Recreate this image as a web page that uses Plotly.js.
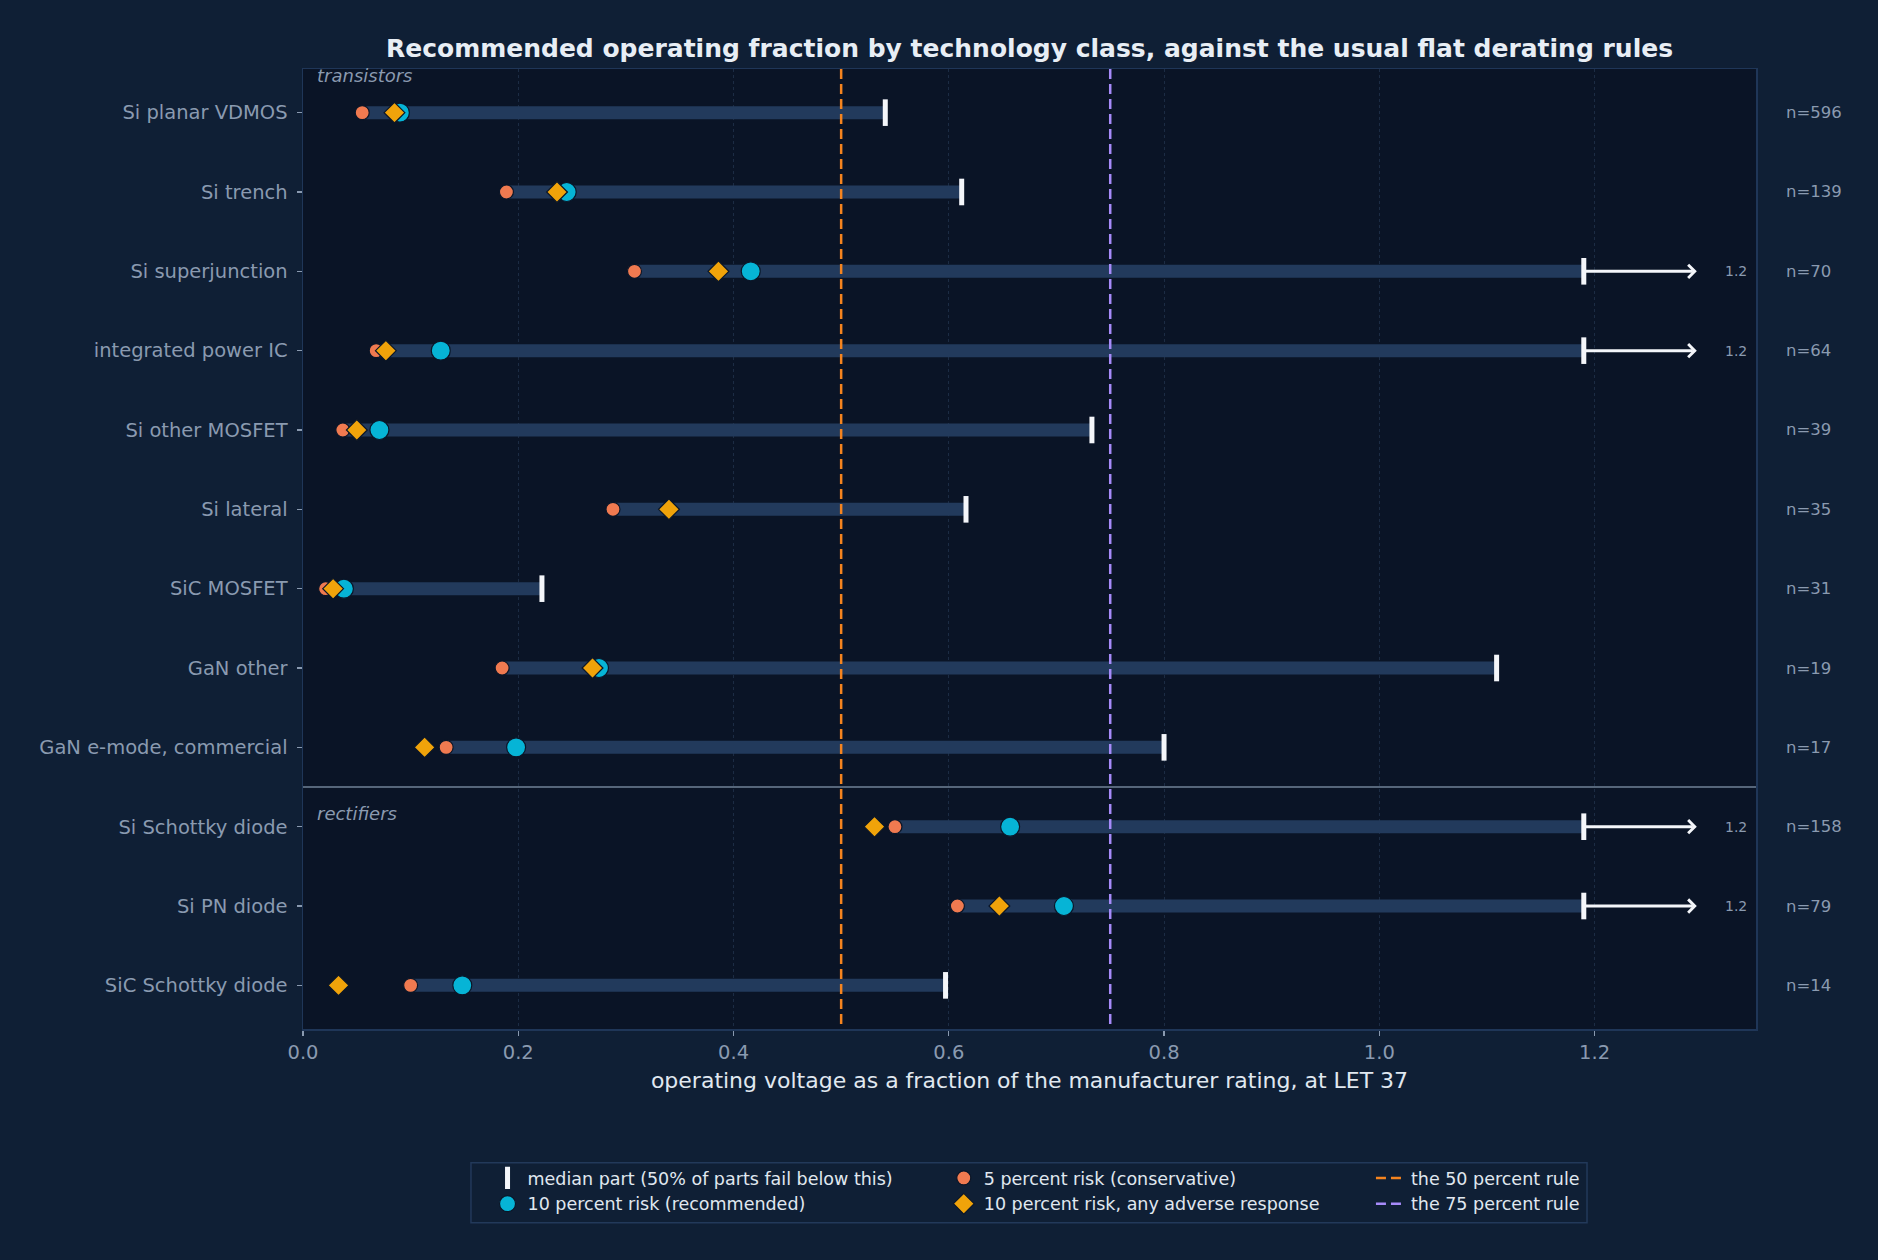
<!DOCTYPE html>
<html>
<head>
<meta charset="utf-8">
<script src="https://cdn.plot.ly/plotly-3.0.1.min.js"></script>
<style>
  html, body { margin: 0; padding: 0; background: #0f1f35; }
  #chart { width: 1878px; height: 1260px; }
</style>
</head>
<body>
<div id="chart"></div>
<script>
// ---------------- data ----------------
const categories = [
  "Si planar VDMOS", "Si trench", "Si superjunction", "integrated power IC",
  "Si other MOSFET", "Si lateral", "SiC MOSFET", "GaN other",
  "GaN e-mode, commercial", "Si Schottky diode", "Si PN diode", "SiC Schottky diode"
];
const groupNames = ["transistors", "rectifiers"];
const sampleCounts = [596, 139, 70, 64, 39, 35, 31, 19, 17, 158, 79, 14];
// 5 percent risk (conservative)
const risk5 = [0.055, 0.189, 0.308, 0.068, 0.037, 0.288, 0.021, 0.185, 0.133, 0.550, 0.608, 0.100];
// 10 percent risk (recommended)
const risk10 = [0.090, 0.245, 0.416, 0.128, 0.071, null, 0.038, 0.275, 0.198, 0.657, 0.707, 0.148];
// 10 percent risk, any adverse response
const risk10Any = [0.085, 0.236, 0.386, 0.077, 0.050, 0.340, 0.028, 0.269, 0.113, 0.531, 0.647, 0.033];
// median part; null where the median lies beyond the plotted range
const medianPart = [0.541, 0.612, null, null, 0.733, 0.616, 0.222, 1.109, 0.800, null, null, 0.597];
const medianCapValue = 1.19;     // where an off-range median is drawn
const medianArrowEnd = 1.295;    // arrow pointing beyond the cap
const capLabel = "1.2";
const ruleValues = [0.5, 0.75];
const ruleNames = ["the 50 percent rule", "the 75 percent rule"];
const xTicks = [0.0, 0.2, 0.4, 0.6, 0.8, 1.0, 1.2];

// ---------------- styling ----------------
const FONT = "DejaVu Sans";
const PAPER = "#0f1f35";
const PLOTBG = "#0a1426";
const FRAME = "#1f3658";
const TICKGRAY = "#8a9ab0";
const BAR = "#223a5c";
const C_ORANGE = "#f07a50";
const C_CYAN = "#06b4d6";
const C_DIAMOND = "#f0a30a";
const RULE_COLORS = ["#f5841f", "#a78bfa"];
const OUTLINE = "#0b1628";
const LEGEND_FONT = { family: FONT, size: 17.5, color: "#e0e8f0" };

const rows = categories.map((_, i) => i);
const yLo = -0.55, yHi = categories.length - 0.45;
const medianDrawn = medianPart.map(m => (m === null ? medianCapValue : m));

// bars: from the 5 percent risk point to the median
const barX = [], barY = [];
rows.forEach(i => { barX.push(risk5[i], medianDrawn[i], null); barY.push(i, i, null); });

const traces = [];
traces.push({
  type: "scatter", mode: "lines", x: barX, y: barY,
  line: { color: BAR, width: 13 }, hoverinfo: "skip", showlegend: false
});
// rule lines
ruleValues.forEach((r, k) => {
  traces.push({
    type: "scatter", mode: "lines", x: [r, r], y: [yLo, yHi],
    name: ruleNames[k], legend: "legend3", legendrank: k + 1,
    line: { color: RULE_COLORS[k], width: 2.5, dash: "10px,5px" }
  });
});
traces.push({
  type: "scatter", mode: "markers", x: medianDrawn, y: rows,
  name: "median part (50% of parts fail below this)", legend: "legend", legendrank: 1,
  marker: { symbol: "line-ns", size: 19, color: "#f4f6fa", line: { color: "#f4f6fa", width: 5 } }
});
traces.push({
  type: "scatter", mode: "markers", x: risk5, y: rows,
  name: "5 percent risk (conservative)", legend: "legend2", legendrank: 1,
  marker: { symbol: "circle", size: 14, color: C_ORANGE, line: { color: OUTLINE, width: 1.2 } }
});
traces.push({
  type: "scatter", mode: "markers", x: risk10, y: rows,
  name: "10 percent risk (recommended)", legend: "legend", legendrank: 2,
  marker: { symbol: "circle", size: 19, color: C_CYAN, line: { color: OUTLINE, width: 1.2 } }
});
traces.push({
  type: "scatter", mode: "markers", x: risk10Any, y: rows,
  name: "10 percent risk, any adverse response", legend: "legend2", legendrank: 2,
  marker: { symbol: "diamond", size: 16, color: C_DIAMOND, line: { color: OUTLINE, width: 1.2 } }
});

// annotations
const annotations = [];
rows.forEach(i => {
  annotations.push({
    xref: "paper", yref: "y", x: 1.0195, y: i, xanchor: "left", yanchor: "middle",
    text: "n=" + sampleCounts[i], showarrow: false,
    font: { family: FONT, size: 16.5, color: TICKGRAY }
  });
  if (medianPart[i] === null) {
    annotations.push({
      xref: "x", yref: "y", axref: "x", ayref: "y",
      x: medianArrowEnd, y: i, ax: medianCapValue, ay: i,
      showarrow: true, arrowhead: 4, arrowsize: 0.85, arrowwidth: 3,
      arrowcolor: "#f4f6fa", text: ""
    });
    annotations.push({
      xref: "x", yref: "y", x: 1.319, y: i, xanchor: "left", yanchor: "middle",
      text: capLabel, showarrow: false,
      font: { family: FONT, size: 14, color: TICKGRAY }
    });
  }
});
annotations.push({
  xref: "paper", yref: "y", x: 0.008, y: -0.47, xanchor: "left", yanchor: "middle",
  text: "<i>" + groupNames[0] + "</i>", showarrow: false,
  font: { family: FONT, size: 18, color: TICKGRAY }
});
annotations.push({
  xref: "paper", yref: "y", x: 0.008, y: 8.83, xanchor: "left", yanchor: "middle",
  text: "<i>" + groupNames[1] + "</i>", showarrow: false,
  font: { family: FONT, size: 18, color: TICKGRAY }
});

function legendCol(x) {
  return {
    orientation: "v", x: x, xanchor: "left", y: -0.1365, yanchor: "top",
    bgcolor: "rgba(0,0,0,0)", borderwidth: 0, font: LEGEND_FONT,
    traceorder: "normal", tracegroupgap: 0
  };
}

const layout = {
  width: 1878, height: 1260,
  paper_bgcolor: PAPER, plot_bgcolor: PLOTBG,
  margin: { l: 303, r: 122, t: 69, b: 231 },
  font: { family: FONT, color: TICKGRAY },
  title: {
    text: "<b>Recommended operating fraction by technology class, against the usual flat derating rules</b>",
    font: { family: FONT, size: 25, color: "#e8eef5" },
    x: 0.5, xref: "paper", xanchor: "center",
    y: 1 - 48 / 1260, yref: "container", yanchor: "middle"
  },
  xaxis: {
    range: [0, 1.35], tickvals: xTicks, ticktext: xTicks.map(v => v.toFixed(1)),
    showgrid: true, gridcolor: "#1c2c44", gridwidth: 1, griddash: "dot",
    zeroline: false, showline: true, mirror: true, linecolor: FRAME, linewidth: 1.5,
    ticks: "outside", ticklen: 5, tickwidth: 1.3, tickcolor: TICKGRAY,
    tickfont: { family: FONT, size: 19.5, color: TICKGRAY },
    title: {
      text: "operating voltage as a fraction of the manufacturer rating, at LET 37",
      font: { family: FONT, size: 22, color: "#e0e8f0" }, standoff: 9
    }
  },
  yaxis: {
    range: [yHi, yLo], tickvals: rows, ticktext: categories,
    showgrid: false, zeroline: false, showline: true, mirror: true,
    linecolor: FRAME, linewidth: 1.5,
    ticks: "outside", ticklen: 5, tickwidth: 1.3, tickcolor: TICKGRAY,
    ticklabelstandoff: 5,
    tickfont: { family: FONT, size: 19.5, color: TICKGRAY }
  },
  shapes: [
    {
      type: "line", xref: "paper", yref: "y", x0: 0, x1: 1, y0: 8.5, y1: 8.5,
      line: { color: "#56667a", width: 2 }
    },
    {
      type: "rect", xref: "paper", yref: "paper", x0: 0.1156, x1: 0.8837, y0: -0.1393, y1: -0.2018,
      line: { color: "#22395a", width: 1.5 }, fillcolor: "rgba(0,0,0,0)", layer: "below"
    }
  ],
  annotations: annotations,
  showlegend: true,
  legend: legendCol(0.127),
  legend2: legendCol(0.441),
  legend3: legendCol(0.735)
};

Plotly.newPlot("chart", traces, layout, { displayModeBar: false, staticPlot: true });
</script>
</body>
</html>
